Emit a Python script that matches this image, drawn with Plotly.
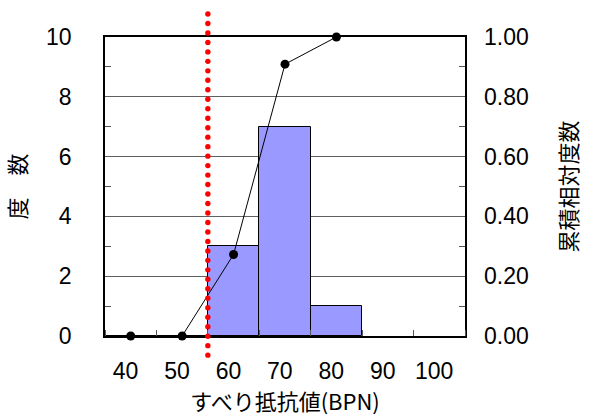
import numpy as np
import plotly.graph_objects as go

# Histogram of slip resistance (BPN) with cumulative relative frequency
bin_centers = [41, 51, 61, 71, 81]
counts = [0, 0, 3, 7, 1]
bin_width = 10
threshold = 56
x_ticks = [40, 50, 60, 70, 80, 90, 100]

cum_rel = np.cumsum(counts) / np.sum(counts)

FONT = "Liberation Sans, Arial, sans-serif"
JP_FONT = "Noto Sans CJK JP, sans-serif"

fig = go.Figure()

fig.add_trace(go.Bar(
    x=bin_centers, y=counts, width=bin_width,
    marker=dict(color="#9999FF", line=dict(color="black", width=1)),
    showlegend=False, hoverinfo="skip",
))

fig.add_trace(go.Scatter(
    x=bin_centers, y=cum_rel, yaxis="y2", mode="lines+markers",
    line=dict(color="black", width=1),
    marker=dict(color="black", size=9),
    showlegend=False, cliponaxis=False,
))

# round-dotted threshold line at the lower limit, running a little past the frame
for yp in np.linspace(1.077, -0.064, 37):
    fig.add_shape(
        type="circle", xref="x", yref="paper",
        xsizemode="pixel", ysizemode="pixel",
        xanchor=threshold, yanchor=yp,
        x0=-2.7, x1=2.7, y0=-2.7, y1=2.7,
        fillcolor="#FF0000", line=dict(width=0),
        layer="above",
    )

fig.update_layout(
    width=596, height=418,
    margin=dict(l=105, r=131, t=37, b=82, autoexpand=False),
    paper_bgcolor="white", plot_bgcolor="white",
    font=dict(family=FONT, size=23, color="black"),
    bargap=0,
    xaxis=dict(
        range=[36, 106], tickvals=x_ticks, ticks="", showgrid=False,
        showline=True, linecolor="black", linewidth=1.5, mirror=True,
        zeroline=False, ticklabelstandoff=14, automargin=False,
        minor=dict(tickmode="linear", tick0=36, dtick=10, ticks="inside",
                   ticklen=6, tickcolor="#555555", showgrid=False),
        title=dict(text="すべり抵抗値(BPN)", font=dict(family=JP_FONT, size=22),
                   standoff=4),
    ),
    yaxis=dict(
        range=[0, 10], dtick=2, ticks="", showgrid=True,
        gridcolor="#606060", gridwidth=1,
        showline=True, linecolor="black", linewidth=1.5, mirror=True,
        zeroline=False, ticklabelstandoff=27, automargin=False,
        minor=dict(dtick=1, ticks="inside", ticklen=6, tickcolor="#555555",
                   showgrid=False),
        title=dict(text="度　数", font=dict(family=JP_FONT, size=22),
                   standoff=18),
    ),
    yaxis2=dict(
        range=[0, 1], dtick=0.2, tickformat=".2f", overlaying="y", side="right",
        ticks="", showgrid=False, showline=False, zeroline=False,
        ticklabelstandoff=18, automargin=False,
        minor=dict(dtick=0.1, ticks="inside", ticklen=6, tickcolor="#555555",
                   showgrid=False),
        title=dict(text="累積相対度数", font=dict(family=JP_FONT, size=22),
                   standoff=33),
    ),
)

fig.write_html("out.html")
